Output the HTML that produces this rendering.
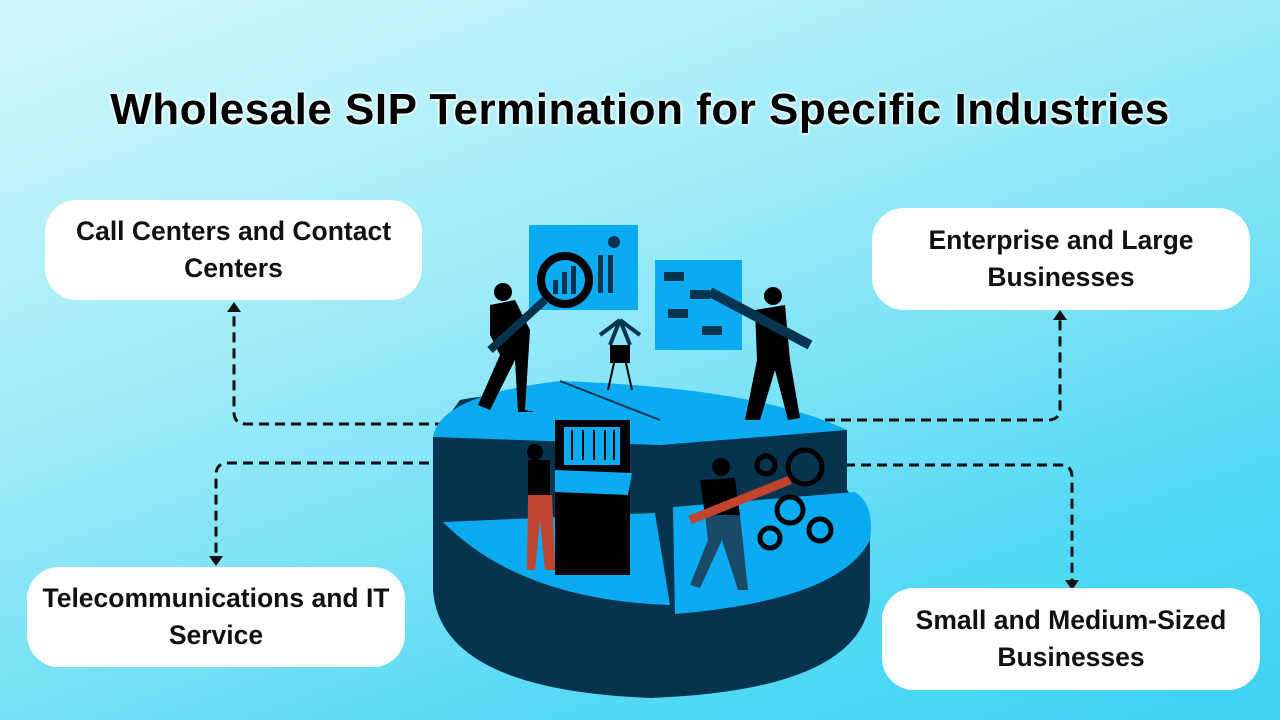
<!DOCTYPE html>
<html><head><meta charset="utf-8"><style>
html,body{margin:0;padding:0;}
body{width:1280px;height:720px;overflow:hidden;position:relative;background:linear-gradient(160deg,#d2f8fc 0%,#9ceaf8 40%,#4fd8f4 80%,#3dd3f2 100%);font-family:"Liberation Sans",sans-serif;}
h1{position:absolute;left:0;width:1280px;top:85px;margin:0;text-align:center;font-size:44px;font-weight:bold;color:#000;letter-spacing:0.5px;text-shadow:0 0 3px #fff,0 0 3px #fff,0 0 4px #fff;}
.box{position:absolute;background:#fff;border-radius:32px;display:flex;align-items:center;justify-content:center;text-align:center;font-weight:bold;font-size:26.5px;line-height:37px;color:#111;}
svg{position:absolute;left:0;top:0;}
</style></head><body>
<svg width="1280" height="720" viewBox="0 0 1280 720">
<g fill="none" stroke="#111" stroke-width="3" stroke-dasharray="10 6">
<path d="M445 424 H246 Q234 424 234 412 V312"/>
<path d="M445 463 H228 Q216 463 216 475 V556"/>
<path d="M825 420 H1048 Q1060 420 1060 408 V320"/>
<path d="M845 465 H1060 Q1072 465 1072 477 V580"/>
</g>
<g fill="#111">
<path d="M227 312 L234 302 L241 312Z"/>
<path d="M209 556 L216 566 L223 556Z"/>
<path d="M1053 320 L1060 310 L1067 320Z"/>
<path d="M1065 580 L1072 590 L1079 580Z"/>
</g>
<path d="M433 437 L433 590 Q440 690 651 698 Q860 690 870 600 L870 520 L847 490 L847 430 L660 420 Q560 381 460 400 Z" fill="#06334d"/>
<path d="M433 437 Q440 395 560 381 L660 420 L660 445 L433 437Z" fill="#0aabf0"/>
<path d="M560 381 Q760 388 847 430 L660 445 L660 420Z" fill="#0aabf0"/>
<path d="M560 381 L660 420" stroke="#06334d" stroke-width="2"/>
<path d="M443 522 L655 513 L670 605 Q520 600 443 522Z" fill="#0aabf0"/>
<path d="M673 507 L855 492 Q875 505 870 540 Q840 600 675 614Z" fill="#0aabf0"/>
<rect x="529" y="225" width="109" height="85" fill="#0aabf0"/>
<rect x="655" y="260" width="87" height="90" fill="#0aabf0"/>
<circle cx="565" cy="280" r="24" fill="none" stroke="#000" stroke-width="8"/>
<rect x="553" y="280" width="5" height="14" fill="#06334d"/><rect x="562" y="272" width="5" height="22" fill="#06334d"/><rect x="571" y="266" width="5" height="28" fill="#06334d"/>
<rect x="598" y="255" width="5" height="38" fill="#06334d"/><rect x="608" y="255" width="5" height="38" fill="#06334d"/>
<circle cx="614" cy="242" r="6" fill="#06334d"/>
<g fill="#06334d"><rect x="664" y="272" width="20" height="9"/><rect x="690" y="290" width="20" height="9"/><rect x="668" y="309" width="20" height="9"/><rect x="702" y="326" width="20" height="9"/></g>
<path d="M620 320 L600 335 M620 320 L640 335 M620 320 L610 345 M620 320 L630 345" stroke="#06334d" stroke-width="4"/>
<rect x="610" y="345" width="20" height="18" fill="#000"/>
<path d="M614 363 L608 390 M626 363 L632 390" stroke="#000" stroke-width="2"/>
<path d="M490 305 L515 300 L530 330 L525 410 L535 412 L518 412 L515 360 L490 410 L478 405 L500 355 L490 335Z" fill="#000"/>
<circle cx="503" cy="292" r="9" fill="#000"/>
<path d="M490 350 L545 300" stroke="#06334d" stroke-width="8"/>
<path d="M755 310 L785 305 L790 360 L800 418 L788 420 L775 370 L760 420 L745 420 L757 360Z" fill="#000"/>
<circle cx="773" cy="296" r="9" fill="#000"/>
<path d="M710 292 L810 345" stroke="#06334d" stroke-width="10"/>
<rect x="555" y="420" width="75" height="155" fill="#000"/>
<rect x="564" y="427" width="56" height="38" fill="#0aabf0"/>
<g stroke="#000" stroke-width="2"><path d="M572 430V460M583 430V460M594 430V460M605 430V460M614 430V460"/></g>
<path d="M555 470 L632 473 L628 495 L555 492Z" fill="#0aabf0"/>
<circle cx="535" cy="452" r="8" fill="#000"/>
<rect x="528" y="460" width="22" height="35" fill="#000"/>
<path d="M528 495 L552 495 L555 570 L545 570 L540 520 L535 570 L527 570Z" fill="#c0452e"/>
<circle cx="721" cy="467" r="9" fill="#000"/>
<path d="M700 480 L735 478 L740 515 L705 515Z" fill="#000"/>
<path d="M705 515 L740 515 L748 590 L738 590 L722 540 L700 588 L690 585 L708 540Z" fill="#1a4a66"/>
<path d="M690 520 L790 480" stroke="#c0452e" stroke-width="9"/>
<g fill="none" stroke="#000" stroke-width="5">
<circle cx="805" cy="467" r="17"/><circle cx="766" cy="465" r="9"/><circle cx="790" cy="510" r="13"/><circle cx="820" cy="530" r="11"/><circle cx="770" cy="538" r="10"/>
</g>
</svg>
<h1>Wholesale SIP Termination for Specific Industries</h1>
<div class="box" style="left:45px;top:200px;width:377px;height:100px;">Call Centers and Contact<br>Centers</div>
<div class="box" style="left:872px;top:208px;width:378px;height:102px;">Enterprise and Large<br>Businesses</div>
<div class="box" style="left:27px;top:567px;width:378px;height:100px;">Telecommunications and IT<br>Service</div>
<div class="box" style="left:882px;top:588px;width:378px;height:102px;">Small and Medium-Sized<br>Businesses</div>
</body></html>
